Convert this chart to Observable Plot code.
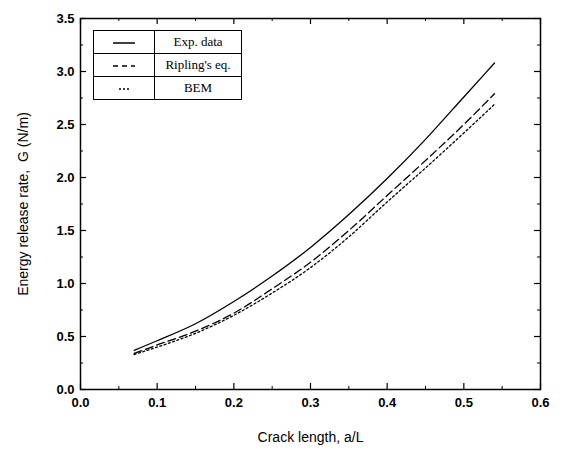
<!DOCTYPE html>
<html><head><meta charset="utf-8">
<script src="https://cdn.jsdelivr.net/npm/d3@7"></script>
<script src="https://cdn.jsdelivr.net/npm/@observablehq/plot@0.6"></script>
<style>
body{margin:0;background:#fff;}
#wrap{position:relative;width:562px;height:452px;}
#legend{position:absolute;left:93px;top:30px;border-collapse:collapse;font-family:"Liberation Serif","DejaVu Serif",serif;font-size:13px;background:#fff;}
#legend td{border:1.5px solid #000;height:22px;padding:0 3px;text-align:center;}
#legend td.sym{width:54px;}
#legend td.lab{width:80px;}
</style>
</head><body>
<div id="wrap"></div>
<script>
const crack = [0.07, 0.10, 0.15, 0.20, 0.25, 0.30, 0.35, 0.40, 0.45, 0.50, 0.54];
const expData = [0.37, 0.46, 0.62, 0.83, 1.07, 1.34, 1.65, 1.99, 2.36, 2.76, 3.08];
const ripling = [0.34, 0.42, 0.55, 0.72, 0.95, 1.20, 1.50, 1.83, 2.16, 2.50, 2.79];
const bem     = [0.33, 0.40, 0.53, 0.70, 0.91, 1.15, 1.44, 1.77, 2.09, 2.42, 2.69];
const seriesNames = ["Exp. data", "Ripling's eq.", "BEM"];
const xTicks = [0, 0.1, 0.2, 0.3, 0.4, 0.5, 0.6];
const xMinor = [0.05, 0.15, 0.25, 0.35, 0.45, 0.55];
const yTicks = [0, 0.5, 1.0, 1.5, 2.0, 2.5, 3.0, 3.5];
const yMinor = [0.25, 0.75, 1.25, 1.75, 2.25, 2.75, 3.25];

const W = 562, H = 452, mL = 80, mR = 22, mT = 18, mB = 63;
const pw = W - mL - mR, ph = H - mT - mB;
const mk = (ys) => crack.map((x, i) => ({x, y: ys[i]}));
const dashes = ["none", "8,4", "2,2.5"];
const allSeries = [expData, ripling, bem];

const plot = Plot.plot({
  width: W, height: H,
  marginLeft: mL, marginRight: mR, marginTop: mT, marginBottom: mB,
  style: {fontFamily: "'Liberation Sans', Arial, sans-serif", fontSize: "13px", color: "#000", background: "#fff"},
  x: {domain: [0, 0.6]},
  y: {domain: [0, 3.5]},
  marks: [
    Plot.frame({stroke: "#000", strokeWidth: 1.5}),
    Plot.tickX(xTicks, {x: d => d, insetTop: ph - 6, stroke: "#000", strokeWidth: 1.2}),
    Plot.tickX(xMinor, {x: d => d, insetTop: ph - 3, stroke: "#000"}),
    Plot.tickX(xTicks, {x: d => d, insetBottom: ph - 6, stroke: "#000", strokeWidth: 1.2}),
    Plot.tickX(xMinor, {x: d => d, insetBottom: ph - 3, stroke: "#000"}),
    Plot.tickY(yTicks, {y: d => d, insetRight: pw - 6, stroke: "#000", strokeWidth: 1.2}),
    Plot.tickY(yMinor, {y: d => d, insetRight: pw - 3, stroke: "#000"}),
    Plot.tickY(yTicks, {y: d => d, insetLeft: pw - 6, stroke: "#000", strokeWidth: 1.2}),
    Plot.tickY(yMinor, {y: d => d, insetLeft: pw - 3, stroke: "#000"}),
    Plot.axisX(xTicks, {tickSize: 0, tickPadding: 8, tickFormat: d3.format(".1f"), fontWeight: "bold", fontSize: 13,
      label: "Crack length, a/L", labelAnchor: "center", labelOffset: 52}),
    Plot.axisY(yTicks, {tickSize: 0, tickPadding: 6, tickFormat: d3.format(".1f"), fontWeight: "bold", fontSize: 13,
      label: "Energy release rate,  G (N/m)", labelAnchor: "center", labelOffset: 62}),
    ...allSeries.map((ys, i) => Plot.line(mk(ys), {x: "x", y: "y", curve: "monotone-x", stroke: "#000", strokeWidth: 1.3, strokeDasharray: dashes[i]}))
  ]
});
plot.querySelectorAll("g[aria-label='x-axis label'] text, g[aria-label='y-axis label'] text").forEach(t => {
  t.setAttribute("font-size", "14"); t.setAttribute("font-weight", "normal");
  t.textContent = t.textContent.replace(/\s*[→↑←↓]\s*/g, "");
});
const wrap = document.getElementById("wrap");
wrap.appendChild(plot);

const tbl = document.createElement("table");
tbl.id = "legend";
seriesNames.forEach((name, i) => {
  const tr = document.createElement("tr");
  const s = document.createElement("td"); s.className = "sym";
  s.innerHTML = `<svg width="30" height="6"><line x1="${i===2?10:4}" x2="${i===2?20:26}" y1="3" y2="3" stroke="#000" stroke-width="1.5" stroke-dasharray="${i===0?'none':(i===1?'5,4':'2,2')}"/></svg>`;
  const l = document.createElement("td"); l.className = "lab"; l.textContent = name;
  tr.appendChild(s); tr.appendChild(l); tbl.appendChild(tr);
});
wrap.appendChild(tbl);
</script>
</body></html>
